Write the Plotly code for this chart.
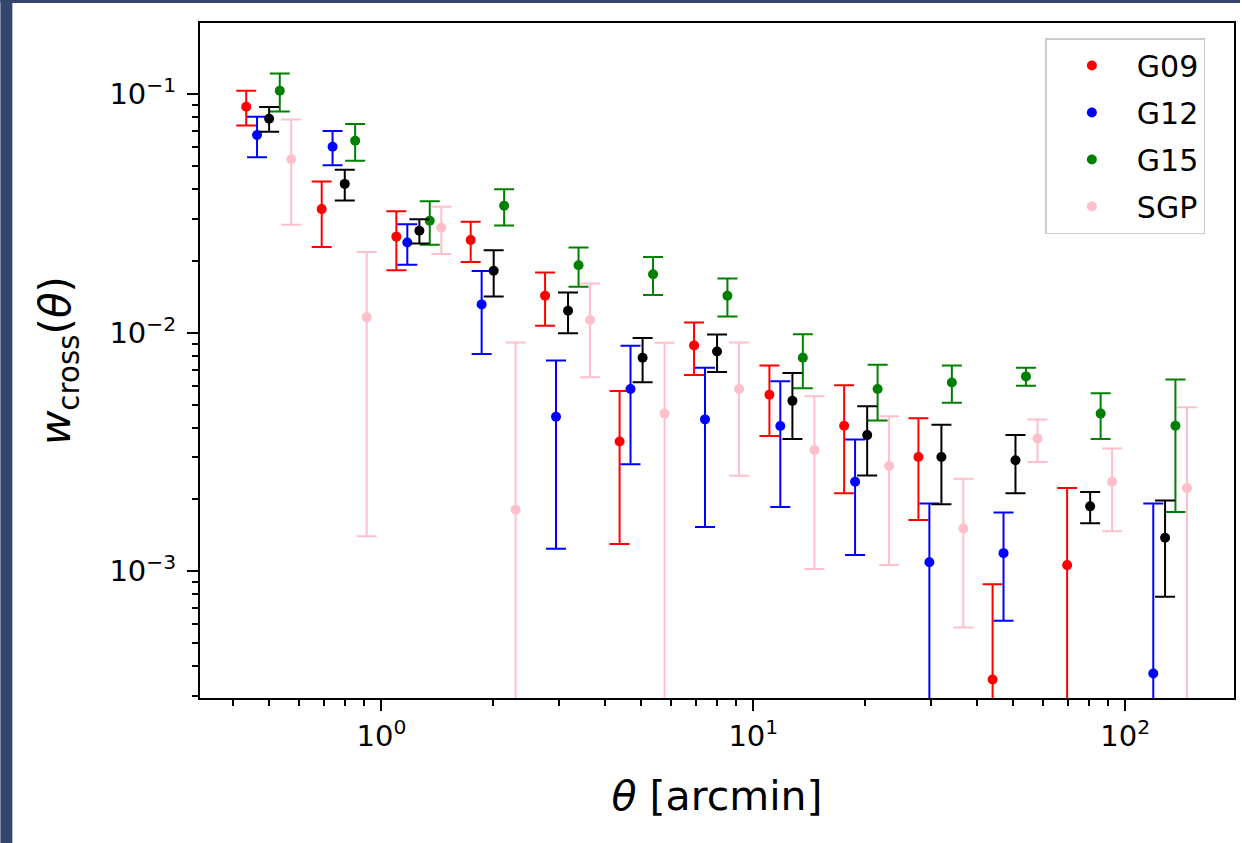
import plotly.graph_objects as go

# ---------------- data ----------------
theta_g09 = [0.433, 0.691, 1.097, 1.738, 2.755, 4.37, 6.93, 11.05, 17.55, 27.8, 44.0, 69.8]
w_g09 = [0.0887, 0.0330, 0.0253, 0.0245, 0.0143, 0.0035, 0.00885, 0.00549, 0.00407, 0.00301, 0.000351, 0.00106]
err_g09 = [0.0147, 0.0101, 0.0070, 0.0047, 0.0036, 0.0022, 0.0022, 0.0018, 0.00195, 0.00137, 0.00053, 0.00117]

theta_g12 = [0.463, 0.739, 1.174, 1.860, 2.948, 4.676, 7.415, 11.82, 18.78, 29.75, 47.08, 119.0]
w_g12 = [0.0675, 0.0603, 0.0239, 0.01315, 0.00444, 0.00581, 0.00433, 0.00406, 0.00237, 0.00109, 0.00119, 0.000372]
err_g12 = [0.0130, 0.0099, 0.0046, 0.0050, 0.0032, 0.0030, 0.0028, 0.0022, 0.0012, 0.00083, 0.00057, 0.00155]

theta_g15 = [0.533, 0.850, 1.349, 2.138, 3.389, 5.375, 8.52, 13.59, 21.59, 34.19, 54.1, 85.9, 136.5]
w_g15 = [0.1035, 0.0639, 0.0295, 0.0341, 0.0192, 0.0176, 0.0143, 0.00785, 0.00581, 0.00618, 0.00656, 0.00458, 0.00407]
err_g15 = [0.0187, 0.0112, 0.0061, 0.0059, 0.0036, 0.0032, 0.0026, 0.0020, 0.00153, 0.0011, 0.00057, 0.0010, 0.0023]

theta_sgp = [0.572, 0.913, 1.449, 2.296, 3.639, 5.773, 9.155, 14.60, 23.18, 36.72, 58.1, 92.2, 146.6]
w_sgp = [0.0534, 0.0116, 0.0276, 0.00181, 0.0113, 0.00458, 0.00581, 0.00322, 0.00276, 0.00151, 0.0036, 0.00237, 0.00223]
err_sgp = [0.0250, 0.0102, 0.0062, 0.0073, 0.0048, 0.0045, 0.0033, 0.0022, 0.0017, 0.00093, 0.00073, 0.0009, 0.00264]

theta_all = [0.499, 0.797, 1.265, 2.004, 3.176, 5.039, 7.99, 12.74, 20.24, 32.05, 50.7, 80.5, 128.0]
w_all = [0.0790, 0.0421, 0.0268, 0.0182, 0.01236, 0.00785, 0.00834, 0.00518, 0.00372, 0.00301, 0.00292, 0.00187, 0.00138]
err_all = [0.0094, 0.0062, 0.0031, 0.0040, 0.0024, 0.00165, 0.0015, 0.0016, 0.0012, 0.0011, 0.0008, 0.00028, 0.0006]

series = [
    ("G09", theta_g09, w_g09, err_g09, "#ff0000", True),
    ("G12", theta_g12, w_g12, err_g12, "#0000ff", True),
    ("G15", theta_g15, w_g15, err_g15, "#008000", True),
    ("SGP", theta_sgp, w_sgp, err_sgp, "#ffc0cb", True),
    ("all", theta_all, w_all, err_all, "#000000", False),
]

x_ticks = [1, 10, 100]
x_ticktext = ["10<sup>0</sup>", "10<sup>1</sup>", "10<sup>2</sup>"]
y_ticks = [0.001, 0.01, 0.1]
y_ticktext = ["10<sup>\u22123</sup>", "10<sup>\u22122</sup>", "10<sup>\u22121</sup>"]

FONT = "DejaVu Sans"

fig = go.Figure()
for name, th, w, e, col, show in series:
    fig.add_trace(go.Scatter(
        x=th, y=w, mode="markers", name=name, showlegend=show,
        legendgroup=name,
        marker=dict(color=col, size=10),
        error_y=dict(type="data", array=e, symmetric=True, color=col,
                     thickness=2, width=10),
    ))

x_minor = [m * 10 ** k for k in range(-1, 3) for m in range(2, 10)]
y_minor = [m * 10 ** k for k in range(-4, 0) for m in range(2, 10)]

L, R, T, B = 200, 6, 23, 145
W, H = 1242, 843
pw, ph = W - L - R, H - T - B

def px(xp):
    return (xp - L) / pw

def py(yp):
    return (H - B - yp) / ph

band = "#34466e"
shapes = [
    dict(type="rect", xref="paper", yref="paper", x0=px(0), x1=px(12), y0=py(843), y1=py(0),
         fillcolor=band, line=dict(width=0), layer="above"),
    dict(type="rect", xref="paper", yref="paper", x0=px(0), x1=px(1242), y0=py(3), y1=py(0),
         fillcolor=band, line=dict(width=0), layer="above"),
]

fig.update_layout(
    width=W, height=H,
    margin=dict(l=L, r=R, t=T, b=B, pad=0),
    paper_bgcolor="white", plot_bgcolor="white",
    font=dict(family=FONT, color="black"),
    shapes=shapes,
    showlegend=True,
    legend=dict(
        x=px(1047), y=py(38), xanchor="left", yanchor="top",
        bgcolor="white", bordercolor="#cccccc", borderwidth=1.5,
        font=dict(family=FONT, size=30, color="black"),
        tracegroupgap=5, itemwidth=80,
    ),
    xaxis=dict(
        type="log", range=[-0.4878, 2.2926],
        showgrid=False, zeroline=False,
        showline=True, linecolor="black", linewidth=2, mirror=True,
        ticks="outside", ticklen=11, tickwidth=2, tickcolor="black",
        tickmode="array", tickvals=x_ticks, ticktext=x_ticktext,
        tickfont=dict(family=FONT, size=29, color="black"),
        minor=dict(ticks="outside", ticklen=6, tickwidth=1.5, tickcolor="black",
                   tickmode="array", tickvals=x_minor, showgrid=False),
        title=dict(text="<i>\u03b8</i> [arcmin]", font=dict(family=FONT, size=41, color="black"),
                   standoff=30),
    ),
    yaxis=dict(
        type="log", range=[-3.5321, -0.7008],
        showgrid=False, zeroline=False,
        showline=True, linecolor="black", linewidth=2, mirror=True,
        ticks="outside", ticklen=11, tickwidth=2, tickcolor="black",
        tickmode="array", tickvals=y_ticks, ticktext=y_ticktext,
        tickfont=dict(family=FONT, size=29, color="black"),
        ticklabelstandoff=5,
        minor=dict(ticks="outside", ticklen=6, tickwidth=1.5, tickcolor="black",
                   tickmode="array", tickvals=y_minor, showgrid=False),
        title=dict(text="<i>w</i><sub>cross</sub>(<i>\u03b8</i>)",
                   font=dict(family=FONT, size=42, color="black"), standoff=26),
    ),
)

fig.write_html("out.html")
